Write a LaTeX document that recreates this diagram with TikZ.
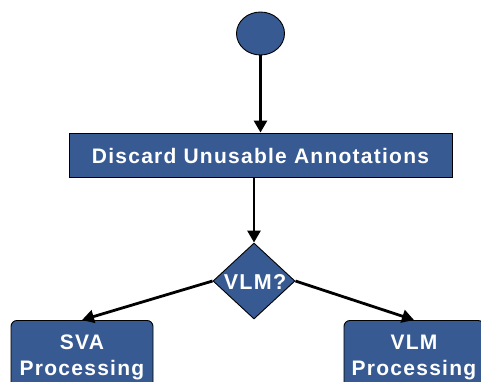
\documentclass[tikz,border=0pt]{standalone}
\usepackage{fontspec}
\setmainfont{Liberation Sans}
\usetikzlibrary{shapes.geometric,arrows.meta}
\definecolor{flowblue}{RGB}{54,90,145}
\tikzset{
  flowfill/.style={draw=black, line width=0.9pt, fill=flowblue},
  label text/.style={text=white, font=\bfseries\fontsize{21}{26}\selectfont\addfontfeature{LetterSpace=6}, inner sep=0pt, align=center},
  flow/.style={line width=2.8pt, -{Triangle[length=12pt,width=13pt]}},
}
\begin{document}
\begin{tikzpicture}[x=1pt,y=-1pt]
  \useasboundingbox (0,0) rectangle (481,381);
  \clip (0,0) rectangle (481,381);
  % start marker
  \node[flowfill, ellipse, minimum width=48pt, minimum height=43pt, inner sep=0pt] (start) at (260.5,33.5) {};
  % action box
  \node[flowfill, rectangle, minimum width=383pt, minimum height=44pt, inner sep=0pt] (discard) at (260.5,155) {};
  \node[label text] (discardtxt) at (260.5,155.5) {Discard Unusable Annotations};
  % decision
  \node[flowfill, diamond, minimum width=82pt, minimum height=76pt, inner sep=0pt] (dec) at (254,281) {};
  \node[label text, font=\bfseries\fontsize{21.5}{26}\selectfont\addfontfeature{LetterSpace=6}] (dectxt) at (255,282) {VLM?};
  % branches (bottom edges run past the frame)
  \node[flowfill, rectangle, rounded corners=6pt, minimum width=142pt, minimum height=90pt, inner sep=0pt, anchor=north] (sva) at (82,320) {};
  \node[label text, anchor=north] (svatxt) at (82,334.5) {SVA\\Processing};
  \node[flowfill, rectangle, rounded corners=6pt, minimum width=140pt, minimum height=90pt, inner sep=0pt, anchor=north] (vlm) at (414,320) {};
  \node[label text, anchor=north] (vlmtxt) at (414,334.5) {VLM\\Processing};
  % connectors
  \draw[flow] (start.south) -- (discard.north -| start.south);
  \draw[flow] (discard.south -| dec.north) -- (dec.north);
  \draw[flow] (dec.west) -- (sva.north);
  \draw[flow] (dec.east) -- (vlm.north);
\end{tikzpicture}
\end{document}
